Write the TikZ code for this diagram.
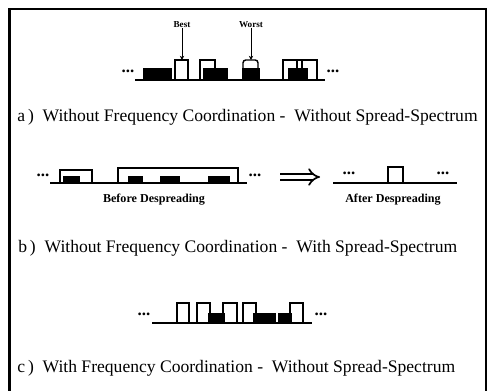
\documentclass[tikz,border=0pt]{standalone}
\usepackage{fontspec}
\setmainfont{Liberation Serif}
\usetikzlibrary{arrows.meta, positioning}

\begin{document}
\begin{tikzpicture}[
    x=0.025cm, y=-0.025cm,
    every node/.style={inner sep=0pt},
    frame/.style={line width=1.8pt},
    baseline/.style={line width=1.3pt},
    carrier/.style={line width=1pt},
    burst/.style={fill=black},
    caption/.style={anchor=west, font=\fontsize{12.5}{14}\selectfont},
    tag/.style={font=\bfseries\fontsize{6.5}{7}\selectfont},
    sublabel/.style={font=\bfseries\fontsize{8.6}{9}\selectfont},
    dots/.style={font=\bfseries\fontsize{12}{12}\selectfont},
    arrow/.style={-{Stealth[length=3pt, width=3pt]}, thin},
    implies/.style={double, double distance=3pt, line width=1.2pt, -{Implies}}
]
\useasboundingbox (0,0) rectangle (490,390);

% outer frame (bottom edge cut off)
\draw[frame] (9.5,392) -- (9.5,9) -- (486,9) -- (486,392);

% a) no coordination, no spread spectrum
\draw[baseline] (135,80) -- (325,80);
\foreach \xa/\xb in {143/172, 203/228, 242/260, 288/308}
    \fill[burst] (\xa,80) rectangle (\xb,68);
\foreach \xa/\xb in {175/188, 200/215, 283/302, 297/317}
    \draw[carrier] (\xa,80) |- (\xb,60) -- (\xb,80);
\draw[carrier, rounded corners=2] (243,80) |- (258,60) -- (258,80);
\node[dots] (dotsAl) at (128,71) {...};
\node[dots] (dotsAr) at (333,71) {...};
\node[tag] (best) at (182,25) {Best};
\node[tag] (worst) at (251,25) {Worst};
\coordinate (bestTop) at (182,60);
\coordinate (worstTop) at (251,60);
\draw[arrow] (best) -- (bestTop);
\draw[arrow] (worst) -- (worstTop);
\node[caption] (capA) at (17,117)
    {a\,)~~Without Frequency Coordination -~~Without Spread-Spectrum};

% b) no coordination, with spread spectrum
\draw[baseline] (50,183) -- (247,183);
\foreach \xa/\xb in {63/80, 128/143, 160/180, 208/230}
    \fill[burst] (\xa,183) rectangle (\xb,176);
\draw[carrier] (60,183) |- (92,170) -- (92,183);
\draw[carrier] (118,183) |- (238,168) -- (238,183);
\node[dots] (dotsBl) at (43,175) {...};
\node[dots] (dotsBr) at (255,175) {...};
\node[sublabel] (before) at (154,200) {Before Despreading};
\coordinate (despA) at (280,177);
\coordinate (despB) at (320,177);
\draw[implies] (despA) -- (despB);
\draw[baseline, line width=2pt] (333,183) -- (457,183);
\draw[carrier] (388,183) |- (403,167) -- (403,183);
\node[dots] (dotsCl) at (349,173) {...};
\node[dots] (dotsCr) at (443,173) {...};
\node[sublabel] (after) at (393,200) {After Despreading};
\node[caption] (capB) at (18,248)
    {b\,)~~Without Frequency Coordination -~~With Spread-Spectrum};

% c) with coordination, no spread spectrum
\draw[baseline] (152,323) -- (312,323);
\foreach \xa/\xb in {208/225, 253/276, 278/292}
    \fill[burst] (\xa,323) rectangle (\xb,313);
\foreach \xa/\xb in {177/189, 197/210, 223/237, 243/256, 290/303}
    \draw[carrier] (\xa,323) |- (\xb,303) -- (\xb,323);
\node[dots] (dotsDl) at (144,314) {...};
\node[dots] (dotsDr) at (321,314) {...};
\node[caption] (capC) at (17,368)
    {c\,)~~With Frequency Coordination -~~Without Spread-Spectrum};
\end{tikzpicture}
\end{document}
